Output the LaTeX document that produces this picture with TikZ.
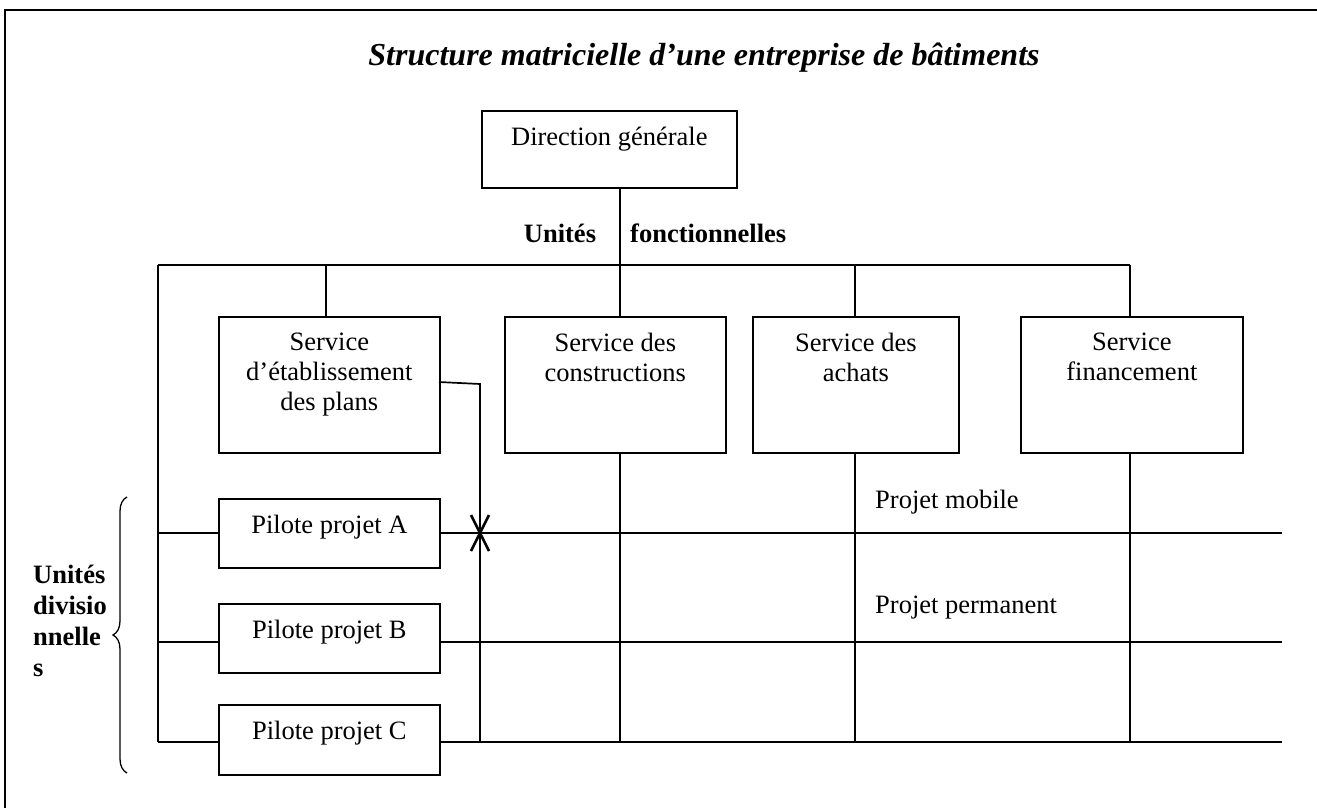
\documentclass[tikz,border=0pt]{standalone}
\usepackage{fontspec}
\setmainfont{Liberation Serif}
\usetikzlibrary{decorations.pathreplacing}
\begin{document}
\begin{tikzpicture}[x=1pt,y=-1pt,
  every node/.style={font=\fontsize{26.5}{30}\selectfont},
  ln/.style={line width=1.7pt},
  frame/.style={line width=2.6pt},
  box/.style={draw,line width=1.7pt,rectangle,inner sep=0pt,anchor=north west},
  boxtext/.style={anchor=north,align=center,inner sep=0pt,yshift=-17pt},
  plain/.style={inner sep=0pt},
  boldtxt/.style={inner sep=0pt,font=\fontsize{26.5}{31}\selectfont\bfseries}]
\useasboundingbox (0,0) rectangle (1317,808);
% frame
\draw[frame] (5,808) -- (5,10) -- (1317,10);
% title
\node[plain,font=\fontsize{32}{36}\selectfont\bfseries\itshape] (title) at (704,58) {Structure matricielle d’une entreprise de bâtiments};
% direction
\node[box,minimum width=255pt,minimum height=77pt,
  label={[boxtext,name=dirT]north:Direction générale}] (dir) at (481,110) {};
% services
\node[box,minimum width=221pt,minimum height=136pt,
  label={[boxtext,name=etabT]north:Service\\d’établissement\\des plans}] (etab) at (218,316) {};
\node[box,minimum width=221pt,minimum height=136pt,
  label={[boxtext,name=consT]north:Service des\\constructions}] (cons) at (504,316) {};
\node[box,minimum width=206pt,minimum height=136pt,
  label={[boxtext,name=achT]north:Service des\\achats}] (ach) at (752,316) {};
\node[box,minimum width=222pt,minimum height=136pt,
  label={[boxtext,name=finT]north:Service\\financement}] (fin) at (1020,316) {};
% pilotes
\node[box,minimum width=221pt,minimum height=69pt,
  label={[boxtext,name=pAT]north:Pilote projet A}] (pA) at (218,498) {};
\node[box,minimum width=221pt,minimum height=69pt,
  label={[boxtext,name=pBT]north:Pilote projet B}] (pB) at (218,603) {};
\node[box,minimum width=221pt,minimum height=70pt,
  label={[boxtext,name=pCT]north:Pilote projet C}] (pC) at (218,704) {};
% coordinates
\coordinate (dirS) at (620,187);
\coordinate (consN) at (620,316);
\coordinate (busL) at (158,265);
\coordinate (busR) at (1130,265);
\coordinate (etabN) at (326,316);
\coordinate (achN) at (855,316);
\coordinate (finN) at (1130,316);
\coordinate (consS) at (620,452);
\coordinate (achS) at (855,452);
\coordinate (finS) at (1130,452);
\coordinate (endA) at (1282,533);
\coordinate (endB) at (1282,642);
\coordinate (endC) at (1282,742);
\coordinate (etabE) at (439,382);
\coordinate (etabK) at (480,384);
\coordinate (etabB) at (480,742);
\coordinate (xm) at (480,533);
% functional lines
\draw[ln] (dirS) -- (consN);
\draw[ln] (busL) -- (busR);
\draw[ln] (etabN |- busL) -- (etabN);
\draw[ln] (achN |- busL) -- (achN);
\draw[ln] (busR) -- (finN);
\draw[ln] (busL) -- (busL |- endC);
\draw[ln] (consS) -- (consS |- endC);
\draw[ln] (achS) -- (achS |- endC);
\draw[ln] (finS) -- (finS |- endC);
\draw[ln] (etabE) -- (etabK) -- (etabB);
% project rows
\draw[ln] (busL |- endA) -- (pA.west |- endA);
\draw[ln] (pA.east |- endA) -- (endA);
\draw[ln] (busL |- endB) -- (pB.west |- endB);
\draw[ln] (pB.east |- endB) -- (endB);
\draw[ln] (busL |- endC) -- (pC.west |- endC);
\draw[ln] (pC.east |- endC) -- (endC);
% X mark
\draw[line width=2.6pt] ([shift={(-9,-18)}]xm) -- ([shift={(9,18)}]xm);
\draw[line width=2.6pt] ([shift={(9,-18)}]xm) -- ([shift={(-9,18)}]xm);
% labels
\node[boldtxt] (uf1) at (560,233) {Unités};
\node[boldtxt,anchor=west] (uf2) at (630,233) {fonctionnelles};
\node[plain,anchor=west] (pm) at (875,502) {Projet mobile};
\node[plain,anchor=west] (pp) at (875,608) {Projet permanent};
\node[boldtxt,anchor=north west,align=left] (ud) at (33,565) {Unités\\divisio\\nnelle\\s};
% brace
\coordinate (brB) at (127,773);
\coordinate (brT) at (127,497);
\draw[line width=1.3pt,decorate,decoration={brace,amplitude=14pt}] (brB) -- (brT);
\end{tikzpicture}
\end{document}
